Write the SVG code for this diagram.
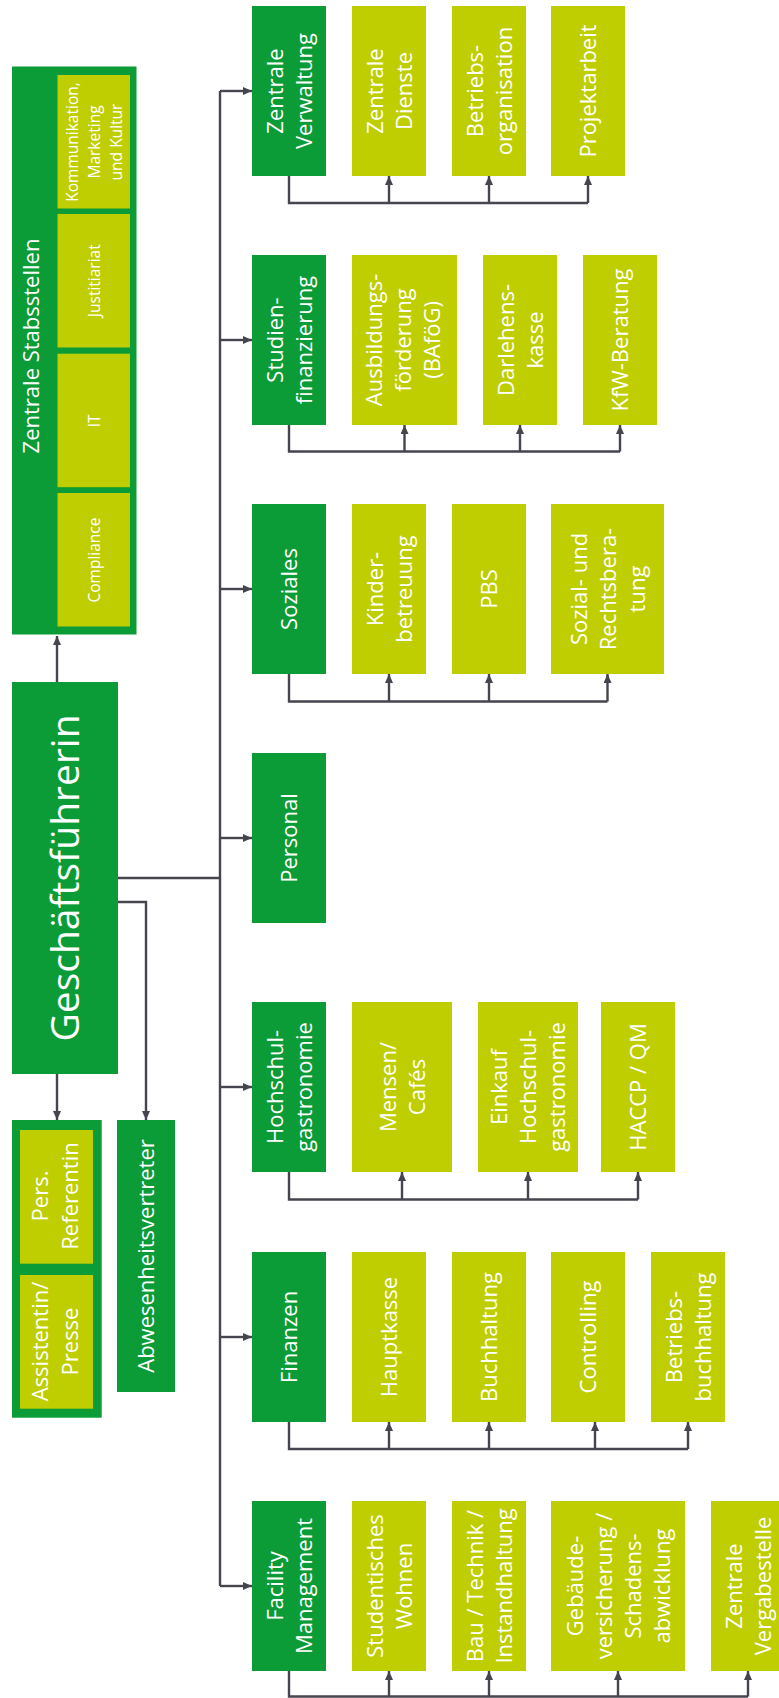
<svg xmlns="http://www.w3.org/2000/svg" width="779" height="1698" viewBox="0 0 779 1698">
<style>
.dept{fill:#0b9b37}
.sub{fill:#bfce00}
.t{font-family:"Open Sans","Noto Sans",sans-serif;fill:#ffffff;font-size:22px;text-anchor:middle}
.s{font-size:15.5px}
.big{font-size:39px}
.conn{fill:none;stroke:#47434f;stroke-width:2.4}
.arr{fill:none;stroke:#47434f;stroke-width:2.4;marker-end:url(#ah)}
</style>
<defs>
<marker id="ah" markerWidth="9" markerHeight="8" refX="9" refY="4" orient="auto" markerUnits="userSpaceOnUse"><path d="M0,0L9,4L0,8z" fill="#47434f"/></marker>
</defs>
<rect width="779" height="1698" fill="#ffffff"/>

<g id="connectors">
<path class="arr" d="M57,682V636"/>
<path class="arr" d="M57,1074V1120"/>
<path class="arr" d="M118,902H146V1120"/>
<path class="conn" d="M118,878H220"/>
<path class="conn" d="M220,91V1586"/>
<path class="arr" d="M220,91H252"/>
<path class="arr" d="M220,340H252"/>
<path class="arr" d="M220,589H252"/>
<path class="arr" d="M220,838H252"/>
<path class="arr" d="M220,1087H252"/>
<path class="arr" d="M220,1337H252"/>
<path class="arr" d="M220,1586H252"/>
<path class="conn" d="M289,176V203H588"/>
<path class="arr" d="M389,203V176"/><path class="arr" d="M489,203V176"/><path class="arr" d="M588,203V176"/>
<path class="conn" d="M289,425V451.5H620"/>
<path class="arr" d="M404.5,451.5V425"/><path class="arr" d="M520,451.5V425"/><path class="arr" d="M620,451.5V425"/>
<path class="conn" d="M289,674V701.5H607.5"/>
<path class="arr" d="M389,701.5V674"/><path class="arr" d="M489,701.5V674"/><path class="arr" d="M607.5,701.5V674"/>
<path class="conn" d="M289,1172V1199.5H638"/>
<path class="arr" d="M402,1199.5V1172"/><path class="arr" d="M528,1199.5V1172"/><path class="arr" d="M638,1199.5V1172"/>
<path class="conn" d="M289,1422V1449H688"/>
<path class="arr" d="M389,1449V1422"/><path class="arr" d="M489,1449V1422"/><path class="arr" d="M595,1449V1422"/><path class="arr" d="M688,1449V1422"/>
<path class="conn" d="M289,1671V1696.5H748"/>
<path class="arr" d="M389,1696.5V1671"/><path class="arr" d="M489,1696.5V1671"/><path class="arr" d="M618,1696.5V1671"/><path class="arr" d="M748,1696.5V1671"/>
</g>

<g id="stabsstellen">
<rect class="dept" x="12" y="66.5" width="124.5" height="568"/>
<text class="t" transform="translate(30.5,346) rotate(-90)" y="8">Zentrale Stabsstellen</text>
</g>
<g id="kommunikation">
<rect class="sub" x="57.5" y="75" width="72.5" height="133.5"/>
<text class="t s" transform="translate(94.5,142) rotate(-90)"><tspan x="0" y="-16.3">Kommunikation,</tspan><tspan x="0" y="5.4">Marketing</tspan><tspan x="0" y="27.1">und Kultur</tspan></text>
</g>
<g id="justitiariat">
<rect class="sub" x="57.5" y="214" width="72.5" height="133.5"/>
<text class="t s" transform="translate(94,280.7) rotate(-90)" y="5.5">Justitiariat</text>
</g>
<g id="it">
<rect class="sub" x="57.5" y="353.7" width="72.5" height="133.5"/>
<text class="t s" transform="translate(94,420.8) rotate(-90)" y="5.5">IT</text>
</g>
<g id="compliance">
<rect class="sub" x="57.5" y="493" width="72.5" height="133.5"/>
<text class="t s" transform="translate(94,560) rotate(-90)" y="5.5">Compliance</text>
</g>

<g id="geschaeftsfuehrerin">
<rect class="dept" x="12" y="682" width="106" height="392"/>
<text class="t big" transform="translate(65,878) rotate(-90)" y="13.7">Geschäftsführerin</text>
</g>

<g id="assistenz">
<rect class="dept" x="12" y="1120" width="89.7" height="297.7"/>
</g>
<g id="pers-referentin">
<rect class="sub" x="20" y="1130" width="73" height="133.7"/>
<text class="t" transform="translate(56.5,1196) rotate(-90)"><tspan x="0" y="-8.5">Pers.</tspan><tspan x="0" y="21.8">Referentin</tspan></text>
</g>
<g id="assistentin">
<rect class="sub" x="20" y="1275" width="73" height="133.7"/>
<text class="t" transform="translate(56.5,1341.5) rotate(-90)"><tspan x="0" y="-8.5">Assistentin/</tspan><tspan x="0" y="21.8">Presse</tspan></text>
</g>
<g id="abwesenheitsvertreter">
<rect class="dept" x="117" y="1120" width="58" height="272"/>
<text class="t" transform="translate(146,1256) rotate(-90)" y="8">Abwesenheitsvertreter</text>
</g>

<!-- Row 1 -->
<g id="zentrale-verwaltung">
<rect class="dept" x="252" y="6" width="74" height="170"/>
<text class="t" transform="translate(289,91) rotate(-90)"><tspan x="0" y="-6.5">Zentrale</tspan><tspan x="0" y="22.5">Verwaltung</tspan></text>
</g>
<g id="zentrale-dienste">
<rect class="sub" x="352" y="6" width="74" height="170"/>
<text class="t" transform="translate(389,91) rotate(-90)"><tspan x="0" y="-6.5">Zentrale</tspan><tspan x="0" y="22.5">Dienste</tspan></text>
</g>
<g id="betriebsorganisation">
<rect class="sub" x="452" y="6" width="74" height="170"/>
<text class="t" transform="translate(489,91) rotate(-90)"><tspan x="0" y="-6.5">Betriebs-</tspan><tspan x="0" y="22.5">organisation</tspan></text>
</g>
<g id="projektarbeit">
<rect class="sub" x="551" y="6" width="74" height="170"/>
<text class="t" transform="translate(588,91) rotate(-90)" y="8">Projektarbeit</text>
</g>

<!-- Row 2 -->
<g id="studienfinanzierung">
<rect class="dept" x="252" y="255" width="74" height="170"/>
<text class="t" transform="translate(289,340) rotate(-90)"><tspan x="0" y="-6.5">Studien-</tspan><tspan x="0" y="22.5">finanzierung</tspan></text>
</g>
<g id="bafoeg">
<rect class="sub" x="352" y="255" width="105" height="170"/>
<text class="t" transform="translate(403,340) rotate(-90)"><tspan x="0" y="-21">Ausbildungs-</tspan><tspan x="0" y="8">förderung</tspan><tspan x="0" y="37">(BAföG)</tspan></text>
</g>
<g id="darlehenskasse">
<rect class="sub" x="483" y="255" width="74" height="170"/>
<text class="t" transform="translate(520,340) rotate(-90)"><tspan x="0" y="-6.5">Darlehens-</tspan><tspan x="0" y="22.5">kasse</tspan></text>
</g>
<g id="kfw-beratung">
<rect class="sub" x="583" y="255" width="74" height="170"/>
<text class="t" transform="translate(620,340) rotate(-90)" y="8">KfW-Beratung</text>
</g>

<!-- Row 3 -->
<g id="soziales">
<rect class="dept" x="252" y="504" width="74" height="170"/>
<text class="t" transform="translate(289,589) rotate(-90)" y="8">Soziales</text>
</g>
<g id="kinderbetreuung">
<rect class="sub" x="352" y="504" width="74" height="170"/>
<text class="t" transform="translate(389,589) rotate(-90)"><tspan x="0" y="-6.5">Kinder-</tspan><tspan x="0" y="22.5">betreuung</tspan></text>
</g>
<g id="pbs">
<rect class="sub" x="452" y="504" width="74" height="170"/>
<text class="t" transform="translate(489,589) rotate(-90)" y="8">PBS</text>
</g>
<g id="sozialberatung">
<rect class="sub" x="551" y="504" width="113" height="170"/>
<text class="t" transform="translate(607.5,589) rotate(-90)"><tspan x="0" y="-21">Sozial- und</tspan><tspan x="0" y="8">Rechtsbera-</tspan><tspan x="0" y="37">tung</tspan></text>
</g>

<!-- Row 4 -->
<g id="personal">
<rect class="dept" x="252" y="753" width="74" height="170"/>
<text class="t" transform="translate(289,838) rotate(-90)" y="8">Personal</text>
</g>

<!-- Row 5 -->
<g id="hochschulgastronomie">
<rect class="dept" x="252" y="1002" width="74" height="170"/>
<text class="t" transform="translate(289,1087) rotate(-90)"><tspan x="0" y="-6.5">Hochschul-</tspan><tspan x="0" y="22.5">gastronomie</tspan></text>
</g>
<g id="mensen">
<rect class="sub" x="352" y="1002" width="100" height="170"/>
<text class="t" transform="translate(402,1087) rotate(-90)"><tspan x="0" y="-6.5">Mensen/</tspan><tspan x="0" y="22.5">Cafés</tspan></text>
</g>
<g id="einkauf">
<rect class="sub" x="478" y="1002" width="100" height="170"/>
<text class="t" transform="translate(528,1087) rotate(-90)"><tspan x="0" y="-21">Einkauf</tspan><tspan x="0" y="8">Hochschul-</tspan><tspan x="0" y="37">gastronomie</tspan></text>
</g>
<g id="haccp">
<rect class="sub" x="601" y="1002" width="74" height="170"/>
<text class="t" transform="translate(638,1087) rotate(-90)" y="8">HACCP / QM</text>
</g>

<!-- Row 6 -->
<g id="finanzen">
<rect class="dept" x="252" y="1252" width="74" height="170"/>
<text class="t" transform="translate(289,1337) rotate(-90)" y="8">Finanzen</text>
</g>
<g id="hauptkasse">
<rect class="sub" x="352" y="1252" width="74" height="170"/>
<text class="t" transform="translate(389,1337) rotate(-90)" y="8">Hauptkasse</text>
</g>
<g id="buchhaltung">
<rect class="sub" x="452" y="1252" width="74" height="170"/>
<text class="t" transform="translate(489,1337) rotate(-90)" y="8">Buchhaltung</text>
</g>
<g id="controlling">
<rect class="sub" x="551" y="1252" width="74" height="170"/>
<text class="t" transform="translate(588,1337) rotate(-90)" y="8">Controlling</text>
</g>
<g id="betriebsbuchhaltung">
<rect class="sub" x="651" y="1252" width="74" height="170"/>
<text class="t" transform="translate(688,1337) rotate(-90)"><tspan x="0" y="-6.5">Betriebs-</tspan><tspan x="0" y="22.5">buchhaltung</tspan></text>
</g>

<!-- Row 7 -->
<g id="facility-management">
<rect class="dept" x="252" y="1501" width="74" height="170"/>
<text class="t" transform="translate(289,1586) rotate(-90)"><tspan x="0" y="-6.5">Facility</tspan><tspan x="0" y="22.5">Management</tspan></text>
</g>
<g id="studentisches-wohnen">
<rect class="sub" x="352" y="1501" width="74" height="170"/>
<text class="t" transform="translate(389,1586) rotate(-90)"><tspan x="0" y="-6.5">Studentisches</tspan><tspan x="0" y="22.5">Wohnen</tspan></text>
</g>
<g id="bau-technik">
<rect class="sub" x="452" y="1501" width="74" height="170"/>
<text class="t" transform="translate(489,1586) rotate(-90)"><tspan x="0" y="-6.5">Bau / Technik /</tspan><tspan x="0" y="22.5">Instandhaltung</tspan></text>
</g>
<g id="gebaeudeversicherung">
<rect class="sub" x="551" y="1501" width="134" height="170"/>
<text class="t" transform="translate(618,1586) rotate(-90)"><tspan x="0" y="-35.5">Gebäude-</tspan><tspan x="0" y="-6.5">versicherung /</tspan><tspan x="0" y="22.5">Schadens-</tspan><tspan x="0" y="51.5">abwicklung</tspan></text>
</g>
<g id="zentrale-vergabestelle">
<rect class="sub" x="711" y="1501" width="74" height="170"/>
<text class="t" transform="translate(748,1586) rotate(-90)"><tspan x="0" y="-6.5">Zentrale</tspan><tspan x="0" y="22.5">Vergabestelle</tspan></text>
</g>
</svg>
